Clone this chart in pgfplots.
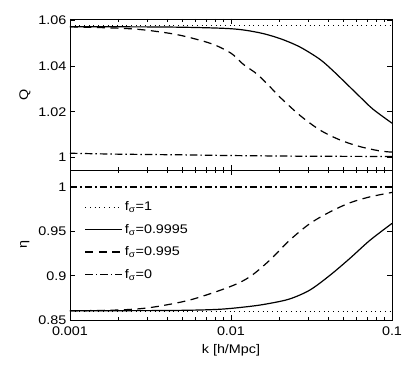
\documentclass[border=0pt]{standalone}
\usepackage{fontspec}
\setmainfont{Liberation Sans}[FakeStretch=1.15]
\usepackage{pgfplots}
\pgfplotsset{compat=1.18}
\tikzset{
  mydashed/.style={dash pattern=on 8bp off 5.5bp},
  mydotted/.style={dash pattern=on 1bp off 3.7bp},
  mydashdot/.style={dash pattern=on 7.5bp off 3bp on 1.5bp off 3bp},
}
\pgfplotsset{legend image code/.code={\draw[#1] (0bp,0bp) -- (37bp,0bp);}}
\begin{document}
\begin{tikzpicture}[font=\fontsize{12.5bp}{14.5bp}\selectfont]
\useasboundingbox (0,0) rectangle (415bp,379bp);
% bottom panel
\begin{axis}[xmode=log, scale only axis, width=322bp, height=150bp,
  at={(70bp,59bp)}, anchor=south west,
  xmin=0.001, xmax=0.1, xtick={0.001,0.01,0.1},
  tick align=inside, major tick length=5bp, minor tick length=3bp,
  tick style={black, line width=0.5bp},
  axis line style={black, line width=0.8bp},
  ymin=0.85, ymax=1.0193,
  ytick={0.85,0.9,0.95,1}, yticklabels={0.85,0.9,0.95,1},
  xticklabels={0.001,0.01,0.1},
  xticklabel style={yshift=-3bp},
  xlabel={k [h/Mpc]}, ylabel={η},
  xlabel style={at={(axis description cs:0.5,-0.2)}, anchor=center},
  ylabel style={at={(axis description cs:-0.14,0.5)}, anchor=center, rotate=0},
  legend style={at={(axis description cs:0.042,0.81)}, anchor=north west,
    draw=none, fill=none, row sep=8bp, font=\fontsize{12.5bp}{14.5bp}\selectfont,
    inner sep=1bp},
  legend cell align=left,
]
\addplot[black, line width=0.9bp, mydotted] coordinates {(0.001,0.8598) (0.1,0.8598)};
\addlegendentry{f\textsubscript{σ}=1}
\addplot[black, line width=1.2bp, solid, smooth] coordinates {
(0.001,0.8605) (0.004,0.8607) (0.0083,0.8620) (0.0133,0.8655) (0.01746,0.8688)
(0.0232,0.8738) (0.0309,0.8838) (0.0412,0.9005) (0.0548,0.9196) (0.073,0.9400)
(0.1,0.9590)};
\addlegendentry{f\textsubscript{σ}=0.9995}
\addplot[black, line width=1.2bp, mydashed, smooth] coordinates {
(0.001,0.8603) (0.002,0.8613) (0.00314,0.8640) (0.00556,0.8726) (0.00986,0.8876)
(0.01312,0.8989) (0.01746,0.9177) (0.0232,0.9402) (0.031,0.9590) (0.0412,0.9720)
(0.0548,0.9823) (0.073,0.9890) (0.1,0.9940)};
\addlegendentry{f\textsubscript{σ}=0.995}
\addplot[black, line width=1.2bp, mydashdot] coordinates {(0.001,1.0) (0.1,1.0)};
\addlegendentry{f\textsubscript{σ}=0}
\end{axis}
% top panel
\begin{axis}[xmode=log, scale only axis, width=322bp, height=151bp,
  at={(70bp,209bp)}, anchor=south west,
  xmin=0.001, xmax=0.1, xtick={0.001,0.01,0.1},
  tick align=inside, major tick length=5bp, minor tick length=3bp,
  tick style={black, line width=0.5bp},
  axis line style={black, line width=0.8bp},
  ymin=0.9946, ymax=1.0604,
  ytick={1,1.02,1.04,1.06}, yticklabels={1,1.02,1.04,1.06},
  xticklabels={},
  ylabel={Q},
  ylabel style={at={(axis description cs:-0.14,0.5)}, anchor=center, rotate=0},
]
\addplot[black, line width=0.9bp, mydotted] coordinates {(0.001,1.0576) (0.1,1.0576)};
\addplot[black, line width=1.2bp, solid, smooth] coordinates {
(0.001,1.0570) (0.004,1.0569) (0.0098,1.0562) (0.0148,1.0545) (0.0201,1.0519)
(0.0268,1.0482) (0.0357,1.0428) (0.0431,1.0378) (0.0525,1.0320) (0.0632,1.0265)
(0.0762,1.0211) (0.1,1.0150)};
\addplot[black, line width=1.2bp, mydashed, smooth] coordinates {
(0.001,1.0570) (0.002,1.0564) (0.00292,1.0556) (0.00469,1.0535) (0.00751,1.0497)
(0.01,1.0455) (0.0119,1.0407) (0.0145,1.0364) (0.0175,1.0308) (0.0201,1.0264)
(0.0268,1.0184) (0.0357,1.0120) (0.0475,1.0077) (0.0632,1.0048) (0.0842,1.0029)
(0.1,1.0024)};
\addplot[black, line width=1.2bp, mydashdot, smooth] coordinates {
(0.001,1.0019) (0.002,1.0015) (0.005,1.0012) (0.01,1.0009) (0.03,1.0006) (0.1,1.0005)};
\draw[black!55, line width=0.9bp] (rel axis cs:0,0) -- (rel axis cs:1,0);
\end{axis}
\end{tikzpicture}
\end{document}
